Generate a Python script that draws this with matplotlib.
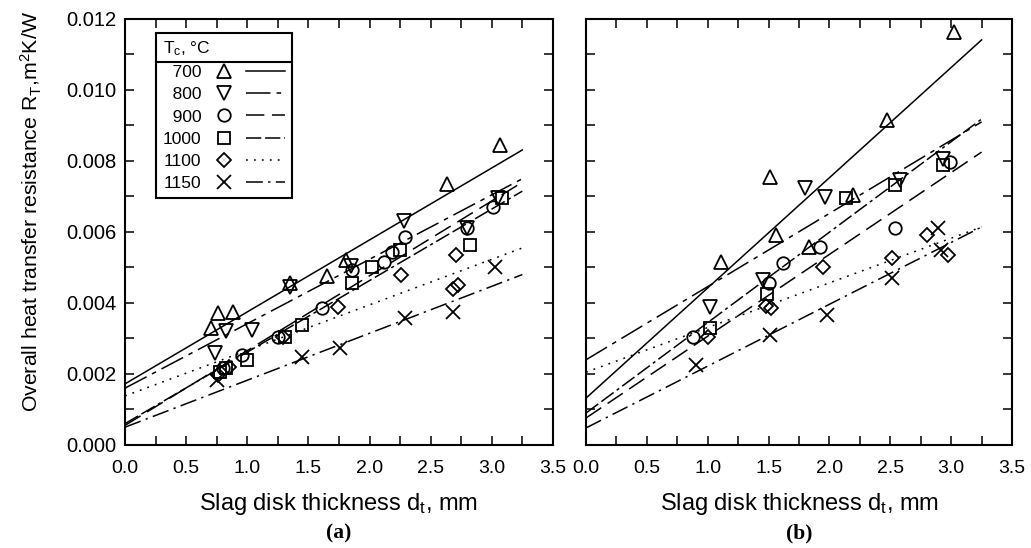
import numpy as np
import matplotlib
matplotlib.use('Agg')
import matplotlib.pyplot as plt
from matplotlib.lines import Line2D
from matplotlib.legend_handler import HandlerTuple
from matplotlib.ticker import MultipleLocator, FormatStrFormatter

plt.rcParams['font.family'] = ['Liberation Sans', 'DejaVu Sans']
plt.rcParams['mathtext.fontset'] = 'custom'
plt.rcParams['mathtext.rm'] = 'Liberation Sans'
plt.rcParams['mathtext.it'] = 'Liberation Sans:italic'

# temperatures of the series
temps = ['700', '800', '900', '1000', '1100', '1150']

# panel (a): slag disk thickness (mm) and resistance (m2K/W)
a_thick = [
    [0.70, 0.76, 0.88, 1.35, 1.65, 1.81, 2.63, 3.07],
    [0.74, 0.83, 1.04, 1.35, 1.85, 2.28, 2.80, 3.05],
    [0.80, 0.96, 1.25, 1.61, 1.86, 2.12, 2.18, 2.29, 2.80, 3.01],
    [0.78, 0.83, 1.00, 1.31, 1.45, 1.86, 2.02, 2.25, 2.82, 3.08],
    [0.76, 0.85, 1.29, 1.74, 2.26, 2.68, 2.72, 2.71],
    [0.75, 1.45, 1.76, 2.29, 2.68, 3.03],
]
a_resist = [
    [0.00330, 0.00372, 0.00375, 0.00456, 0.00475, 0.00520, 0.00735, 0.00845],
    [0.00259, 0.00322, 0.00324, 0.00445, 0.00505, 0.00630, 0.00610, 0.00695],
    [0.00217, 0.00254, 0.00304, 0.00386, 0.00493, 0.00515, 0.00544, 0.00586, 0.00611, 0.00670],
    [0.00205, 0.00217, 0.00239, 0.00304, 0.00338, 0.00456, 0.00501, 0.00549, 0.00563, 0.00696],
    [0.00197, 0.00220, 0.00305, 0.00389, 0.00479, 0.00440, 0.00450, 0.00535],
    [0.00183, 0.00248, 0.00273, 0.00358, 0.00375, 0.00501],
]
# fit lines of panel (a): value at d=0 and at d=3.25
a_fit_start = [0.00172, 0.00160, 0.00055, 0.00060, 0.00138, 0.00050]
a_fit_end = [0.00831, 0.00750, 0.00740, 0.00715, 0.00555, 0.00480]

# panel (b)
b_thick = [
    [1.11, 1.51, 1.56, 1.83, 2.19, 2.47, 3.02],
    [1.02, 1.45, 1.80, 1.96, 2.58, 2.93],
    [0.88, 1.50, 1.62, 1.92, 2.54, 2.99],
    [1.02, 1.49, 2.14, 2.54, 2.93],
    [1.00, 1.48, 1.52, 1.95, 2.51, 2.80, 2.97],
    [0.90, 1.51, 1.98, 2.51, 2.89, 2.92],
]
b_resist = [
    [0.00515, 0.00755, 0.00592, 0.00558, 0.00705, 0.00915, 0.01163],
    [0.00389, 0.00465, 0.00724, 0.00699, 0.00746, 0.00805],
    [0.00304, 0.00456, 0.00513, 0.00558, 0.00611, 0.00797],
    [0.00330, 0.00425, 0.00696, 0.00732, 0.00789],
    [0.00304, 0.00392, 0.00385, 0.00501, 0.00527, 0.00592, 0.00535],
    [0.00225, 0.00310, 0.00366, 0.00470, 0.00611, 0.00549],
]
b_fit_start = [0.00132, 0.00240, 0.00076, 0.00090, 0.00205, 0.00048]
b_fit_end = [0.01141, 0.00910, 0.00825, 0.00918, 0.00614, 0.00614]

fit_x = [0.0, 3.25]

# styles
markers = ['^', 'v', 'o', 's', 'D', 'x']
msizes = [10, 10, 9, 8.5, 7.5, 9.5]
dashes = [(None, None), (16, 4, 3, 4), (12, 5), (10, 2.5, 10, 2.5, 2, 2.5),
          (1.2, 4), (11, 3.5, 1.5, 3.5)]

fig = plt.figure(figsize=(10.31, 5.48), dpi=100)
ax1 = fig.add_axes([0.1212, 0.188, 0.4151, 0.7774])
ax2 = fig.add_axes([0.5684, 0.188, 0.4132, 0.7774])


def draw_panel(ax, thick, resist, fstart, fend):
    for i in range(len(temps)):
        ax.plot(thick[i], resist[i], linestyle='none', marker=markers[i],
                markersize=msizes[i], markerfacecolor='none',
                markeredgecolor='black', markeredgewidth=1.3)
        ln, = ax.plot(fit_x, [fstart[i], fend[i]], color='black', lw=1.1)
        if dashes[i][0] is not None:
            ln.set_dashes(dashes[i])
    ax.set_xlim(0, 3.5)
    ax.set_ylim(0, 0.012)
    ax.xaxis.set_major_locator(MultipleLocator(0.5))
    ax.xaxis.set_minor_locator(MultipleLocator(0.25))
    ax.yaxis.set_major_locator(MultipleLocator(0.002))
    ax.yaxis.set_minor_locator(MultipleLocator(0.001))
    ax.xaxis.set_major_formatter(FormatStrFormatter('%.1f'))
    ax.yaxis.set_major_formatter(FormatStrFormatter('%.3f'))
    ax.tick_params(which='both', direction='in', top=True, right=True,
                   length=6.5, width=1.1)
    ax.tick_params(axis='x', labelsize=14, pad=11)
    ax.tick_params(axis='y', labelsize=14.5, pad=6)
    for s in ax.spines.values():
        s.set_linewidth(1.5)
    ax.set_xlabel('Slag disk thickness d$_{\\rm t}$, mm', fontsize=17, labelpad=10)


draw_panel(ax1, a_thick, a_resist, a_fit_start, a_fit_end)
draw_panel(ax2, b_thick, b_resist, b_fit_start, b_fit_end)
ax2.tick_params(axis='y', labelleft=False)
ax1.set_ylabel('Overall heat transfer resistance R$_{\\rm T}$,m$^{\\rm 2}$K/W',
               fontsize=15.3)
ax1.yaxis.set_label_coords(-0.19, 0.547)

# legend: number, marker, line sample
handles = []
for i in range(len(temps)):
    mk = Line2D([], [], linestyle='none', marker=markers[i], markersize=msizes[i],
                markerfacecolor='none', markeredgecolor='black', markeredgewidth=1.3)
    ln = Line2D([], [], color='black', lw=1.1)
    if dashes[i][0] is not None:
        ln.set_dashes(dashes[i])
    handles.append((mk, ln))
labels = [t.rjust(4, '\u2007') for t in temps]
leg = ax1.legend(handles, labels, handler_map={tuple: HandlerTuple(ndivide=None, pad=0.1)},
                 loc='upper left', bbox_to_anchor=(0.072, 0.968), markerfirst=False,
                 handlelength=4.6, handletextpad=0.2, labelspacing=0.4,
                 fontsize=12.5, title='T$_{\\rm c}$, °C', title_fontsize=12.5,
                 alignment='left', fancybox=False, framealpha=1, edgecolor='black',
                 borderpad=0.4, borderaxespad=0)
leg.get_frame().set_linewidth(1.5)

# line under the legend title
fig.canvas.draw()
rend = fig.canvas.get_renderer()
lb = leg.get_window_extent(rend)
tb = leg.get_title().get_window_extent(rend)
W, H = fig.get_size_inches() * fig.dpi
yline = (tb.y0 - 4) / H
fig.add_artist(Line2D([lb.x0 / W, lb.x1 / W], [yline, yline], color='black', lw=1.5))

# panel tags
for ax, tag in [(ax1, '(a)'), (ax2, '(b)')]:
    pos = ax.get_position()
    fig.text((pos.x0 + pos.x1) / 2, 0.026, tag, ha='center', va='center',
             fontsize=15.5, fontweight='bold', family='Liberation Serif')

fig.savefig('out.png', dpi=100)
